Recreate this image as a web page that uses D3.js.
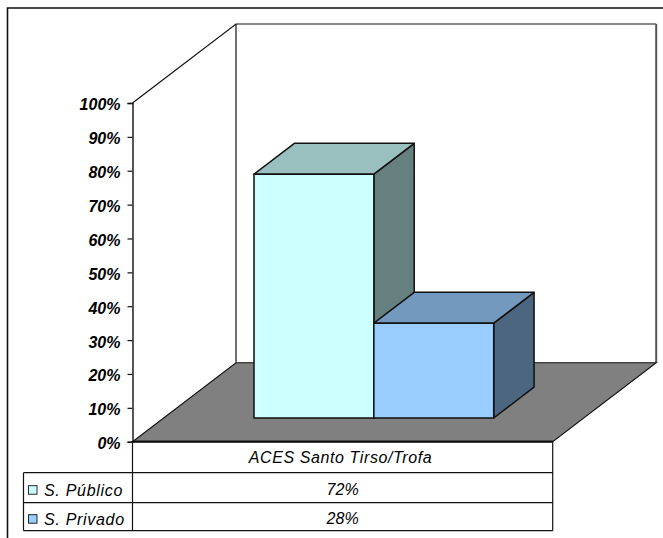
<!DOCTYPE html>
<html>
<head>
<meta charset="utf-8">
<script src="https://cdn.jsdelivr.net/npm/d3@7/dist/d3.min.js"></script>
<style>
  html, body { margin: 0; padding: 0; background: #fff; }
  svg { display: block; }
  text { font-family: "Liberation Sans", Arial, sans-serif; font-style: italic; fill: #000; }
</style>
</head>
<body>
<svg id="chart" width="663" height="538"></svg>
<script>
const categories = ["ACES Santo Tirso/Trofa"];
const seriesNames = ["S. Público", "S. Privado"];
const seriesValues = [72, 28];
const seriesFront = ["#CCFFFF", "#99CCFF"];
const seriesTop = ["#99BFBF", "#7399BF"];
const seriesSide = ["#668080", "#4D6680"];
const axisTicks = [0, 10, 20, 30, 40, 50, 60, 70, 80, 90, 100];

const svg = d3.select("#chart");
const stroke = "#111";

// Oblique projection: front plane of the plot and the depth vector of the box
const plot = { left: 132.5, right: 552.7, top: 103, bottom: 441.7 };
const depth = { dx: 103.5, dy: -79 };
const barNear = 0.30, barFar = 0.69;   // bar position along the depth of the floor

const y = d3.scaleLinear().domain([0, 100]).range([plot.bottom, plot.top]);
const x = d3.scaleBand().domain(seriesNames).range([254, 493.7]);
const poly = pts => pts.map(p => p.join(",")).join(" ");

// Outer frame (only top and left fall inside the page)
svg.append("path").attr("d", "M7.5,538V8H663").attr("fill", "none")
  .attr("stroke", stroke).attr("stroke-width", 1.6);

// Back wall and left wall outline
const backL = plot.left + depth.dx, backR = plot.right + depth.dx;
const backTop = plot.top + depth.dy, backBot = plot.bottom + depth.dy;
svg.append("path")
  .attr("d", `M${plot.left},${plot.top}L${backL},${backTop}H${backR}`)
  .attr("fill", "none").attr("stroke", stroke).attr("stroke-width", 1.2);
svg.append("line").attr("x1", backL).attr("x2", backL).attr("y1", backTop).attr("y2", backBot)
  .attr("stroke", stroke).attr("stroke-width", 1.2);
svg.append("line").attr("x1", backR).attr("x2", backR).attr("y1", backTop).attr("y2", backBot)
  .attr("stroke", "#555").attr("stroke-width", 2);

// Floor
svg.append("polygon")
  .attr("points", poly([[plot.left, plot.bottom], [backL, backBot], [backR, backBot], [plot.right, plot.bottom]]))
  .attr("fill", "#808080").attr("stroke", stroke).attr("stroke-width", 1.1);

// Bars: side and top faces are the front face pushed back along the depth vector
const lift = barNear * depth.dy;
const bx = barFar * depth.dx - barNear * depth.dx;
const by = barFar * depth.dy - barNear * depth.dy;
const bars = svg.append("g").selectAll("g").data(seriesValues).join("g")
  .attr("stroke", stroke).attr("stroke-width", 1.5).attr("stroke-linejoin", "round");
const faces = (d, i) => {
  const x0 = x(seriesNames[i]), x1 = x0 + x.bandwidth();
  return { x0, x1, top: y(d) + lift, base: y(0) + lift };
};
bars.append("polygon").attr("fill", (d, i) => seriesSide[i]).attr("points", (d, i) => {
  const f = faces(d, i);
  return poly([[f.x1, f.top], [f.x1 + bx, f.top + by], [f.x1 + bx, f.base + by], [f.x1, f.base]]);
});
bars.append("polygon").attr("fill", (d, i) => seriesTop[i]).attr("points", (d, i) => {
  const f = faces(d, i);
  return poly([[f.x0, f.top], [f.x0 + bx, f.top + by], [f.x1 + bx, f.top + by], [f.x1, f.top]]);
});
bars.append("rect").attr("fill", (d, i) => seriesFront[i])
  .attr("x", (d, i) => faces(d, i).x0)
  .attr("y", (d, i) => faces(d, i).top)
  .attr("width", x.bandwidth())
  .attr("height", (d, i) => faces(d, i).base - faces(d, i).top);

// Value axis
const axis = svg.append("g").attr("transform", `translate(${plot.left},0)`)
  .call(d3.axisLeft(y).tickValues(axisTicks).tickSize(5).tickPadding(7).tickFormat(d => d + "%"));
axis.select(".domain").attr("stroke", stroke).attr("stroke-width", 1.4);
axis.selectAll(".tick line").attr("stroke", stroke).attr("stroke-width", 1.2);
axis.selectAll(".tick text").attr("y", 1.8).style("font-family", '"Liberation Sans", Arial, sans-serif')
  .style("font-size", "16px").style("font-weight", "bold").style("font-style", "italic");

// Data table
const tableRows = [plot.bottom, 472.7, 502.7, 530.7];
const legendLeft = 23.5;
const table = svg.append("g").attr("stroke", stroke).attr("fill", "none");
table.append("line").attr("x1", plot.left).attr("x2", plot.right).attr("y1", plot.bottom).attr("y2", plot.bottom)
  .attr("stroke-width", 2.2);
tableRows.slice(1).forEach(r => {
  table.append("line").attr("x1", legendLeft).attr("x2", plot.right).attr("y1", r).attr("y2", r).attr("stroke-width", 1.2);
});
[[legendLeft, tableRows[1]], [plot.left, plot.bottom], [plot.right, plot.bottom]].forEach(([lx, ly]) => {
  table.append("line").attr("x1", lx).attr("x2", lx).attr("y1", ly).attr("y2", tableRows[3]).attr("stroke-width", 1.2);
});

const tableFont = "16px";
const midX = (plot.left + plot.right) / 2;
svg.append("text").attr("x", 340.5).attr("y", 462.7).attr("text-anchor", "middle")
  .style("font-size", tableFont).style("letter-spacing", "0.6px").text(categories[0]);
seriesNames.forEach((name, i) => {
  const rowMid = (tableRows[i + 1] + tableRows[i + 2]) / 2;
  svg.append("rect").attr("x", 28.5).attr("y", rowMid - 2).attr("width", 8.5).attr("height", 8.5)
    .attr("fill", seriesFront[i]).attr("stroke", stroke).attr("stroke-width", 0.9);
  svg.append("text").attr("x", 44).attr("y", rowMid + 8).style("font-size", tableFont)
    .style("letter-spacing", "0.7px").text(name);
  svg.append("text").attr("x", midX).attr("y", rowMid + 7.5).attr("text-anchor", "middle")
    .style("font-size", tableFont).text(seriesValues[i] + "%");
});
</script>
</body>
</html>
